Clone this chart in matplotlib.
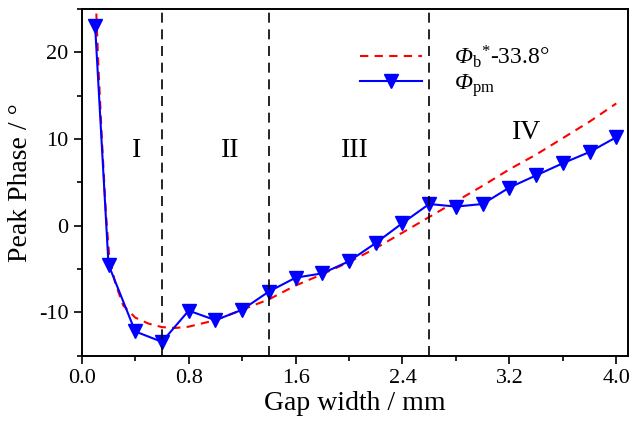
import numpy as np
import matplotlib
matplotlib.use("Agg")
import matplotlib.pyplot as plt
from matplotlib.ticker import MultipleLocator

plt.rcParams['font.family'] = ['Liberation Serif', 'DejaVu Serif']
# italic Phi with upright subscripts: rm -> italic, sf -> upright
plt.rcParams['mathtext.fontset'] = 'custom'
plt.rcParams['mathtext.rm'] = 'Liberation Serif:italic'
plt.rcParams['mathtext.it'] = 'Liberation Serif:italic'
plt.rcParams['mathtext.sf'] = 'Liberation Serif'

# measured peak phase
gap = [0.1, 0.2, 0.4, 0.6, 0.8, 1.0, 1.2, 1.4, 1.6, 1.8, 2.0,
       2.2, 2.4, 2.6, 2.8, 3.0, 3.2, 3.4, 3.6, 3.8, 4.0]
phi_pm = [23.0, -4.5, -12.2, -13.4, -9.8, -10.9, -9.7, -7.6, -6.0, -5.5, -4.1,
          -2.0, 0.3, 2.5, 2.2, 2.5, 4.4, 5.8, 7.2, 8.5, 10.2]

# shifted boundary curve
gap_b = [0.10, 0.124, 0.15, 0.18, 0.206, 0.25, 0.31, 0.4, 0.5, 0.6, 0.7, 0.8,
         1.0, 1.2, 1.4, 1.6, 1.8, 2.0, 2.2, 2.4, 2.6, 2.8, 3.0, 3.2, 3.4,
         3.6, 3.8, 4.0]
phi_b = [28.0, 18.5, 10.1, 1.6, -3.7, -6.6, -9.2, -10.6, -11.3, -11.7, -11.8, -11.65,
         -10.9, -9.7, -8.5, -6.9, -5.6, -4.2, -2.6, -0.8, 1.0, 2.8, 4.6, 6.5, 8.2,
         10.1, 12.0, 14.1]

region_edges = [0.6, 1.4, 2.6]
region_names = ['I', 'II', 'III', 'IV']
region_x = [0.41, 1.11, 2.04, 3.33]
region_y = [8.7, 8.7, 8.7, 10.7]

fig = plt.figure(figsize=(6.34, 4.25), dpi=100)
ax = fig.add_axes([0.129, 0.163, 0.861, 0.816])

ax.plot(gap_b, phi_b, color='red', ls=(0, (4, 3)), lw=1.5,
        label=r'$\Phi_\mathsf{b}{}^{\mathsf{*}}$-33.8°')
ax.plot(gap, phi_pm, color='blue', lw=1.5, marker='v', markersize=10,
        label=r'$\Phi_\mathsf{pm}$')

for xe in region_edges:
    ax.axvline(xe, color='black', ls=(0, (6, 4)), lw=1.2)
for name, xr, yr in zip(region_names, region_x, region_y):
    ax.text(xr, yr, name, fontsize=20, ha='center', va='center')

ax.set_xlim(0, 4.085)
ax.set_ylim(-15, 25)
ax.xaxis.set_minor_locator(MultipleLocator(0.4))
ax.yaxis.set_minor_locator(MultipleLocator(5))
ax.set_xticks([0.0, 0.8, 1.6, 2.4, 3.2, 4.0])
ax.set_xticklabels(['0.0', '0.8', '1.6', '2.4', '3.2', '4.0'])
ax.set_yticks([-10, 0, 10, 20])
ax.set_yticklabels(['-10', '0', '10', '20'])
ax.tick_params(which='major', direction='out', length=6, width=1.2, labelsize=16,
               top=False, right=False)
ax.tick_params(which='minor', direction='out', length=3.5, width=1.2,
               top=False, right=False)
for s in ax.spines.values():
    s.set_linewidth(1.4)

ax.set_xlabel('Gap width / mm', fontsize=20, labelpad=2)
ax.set_ylabel('Peak Phase / °', fontsize=20, labelpad=4)

ax.legend(loc='upper right', bbox_to_anchor=(0.895, 0.962), frameon=False,
          fontsize=17, handlelength=2.6, labelspacing=0.1, handletextpad=1.35)

fig.savefig('out.png', dpi=100)
